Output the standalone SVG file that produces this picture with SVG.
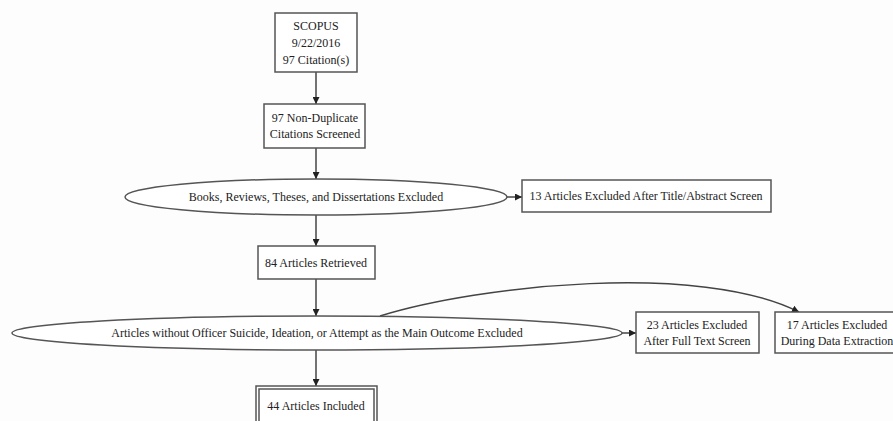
<svg xmlns="http://www.w3.org/2000/svg" width="893" height="421" viewBox="0 0 893 421">
<defs>
<marker id="ah" viewBox="0 0 10 10" refX="10" refY="5" markerWidth="7" markerHeight="7" markerUnits="userSpaceOnUse" orient="auto">
<path d="M0,0 L10,5 L0,10 z" fill="#222"/>
</marker>
<style>
.box{fill:#fff;stroke:#555;stroke-width:1.5}
.ell{fill:#fff;stroke:#555;stroke-width:1.5}
.edge{fill:none;stroke:#444;stroke-width:1.5;marker-end:url(#ah)}
text{font-family:"Liberation Serif","Times New Roman",serif;font-size:12px;fill:#222;text-anchor:middle;dominant-baseline:central}
</style>
</defs>
<rect width="893" height="421" fill="#fdfdfd"/>
<g id="connectors">
<path class="edge" d="M316,72 L316,104"/>
<path class="edge" d="M316,148 L316,179"/>
<path class="edge" d="M507,197 L522,197"/>
<path class="edge" d="M316,215 L316,246"/>
<path class="edge" d="M316,279 L316,316"/>
<path class="edge" d="M316,350 L316,386"/>
<path class="edge" d="M622,333 L636,333"/>
<path class="edge" d="M380,316 C480,285 700,262 799,312"/>
</g>
<g id="scopus">
<rect class="box" x="275" y="13" width="82" height="59"/>
<text x="316" y="26">SCOPUS</text>
<text x="316" y="43">9/22/2016</text>
<text x="316" y="60">97 Citation(s)</text>
</g>
<g id="screened">
<rect class="box" x="264" y="104" width="101" height="44"/>
<text x="315" y="118">97 Non-Duplicate</text>
<text x="315" y="134">Citations Screened</text>
</g>
<g id="excl1">
<ellipse class="ell" cx="316" cy="197" rx="191" ry="18"/>
<text x="316" y="197">Books, Reviews, Theses, and Dissertations Excluded</text>
</g>
<g id="ex13">
<rect class="box" x="522" y="180" width="249" height="32"/>
<text x="646" y="196">13 Articles Excluded After Title/Abstract Screen</text>
</g>
<g id="retrieved">
<rect class="box" x="258" y="246" width="117" height="33"/>
<text x="316" y="263">84 Articles Retrieved</text>
</g>
<g id="excl2">
<ellipse class="ell" cx="317" cy="333" rx="305" ry="17"/>
<text x="317" y="333">Articles without Officer Suicide, Ideation, or Attempt as the Main Outcome Excluded</text>
</g>
<g id="ex23">
<rect class="box" x="636" y="312" width="123" height="41"/>
<text x="697" y="325">23 Articles Excluded</text>
<text x="697" y="341">After Full Text Screen</text>
</g>
<g id="ex17">
<rect class="box" x="775" y="312" width="124" height="41"/>
<text x="837" y="325">17 Articles Excluded</text>
<text x="837" y="341">During Data Extraction</text>
</g>
<g id="included">
<rect class="box" x="256" y="386" width="121" height="42"/>
<rect class="box" x="259" y="389" width="115" height="36"/>
<text x="316" y="406">44 Articles Included</text>
</g>
</svg>
